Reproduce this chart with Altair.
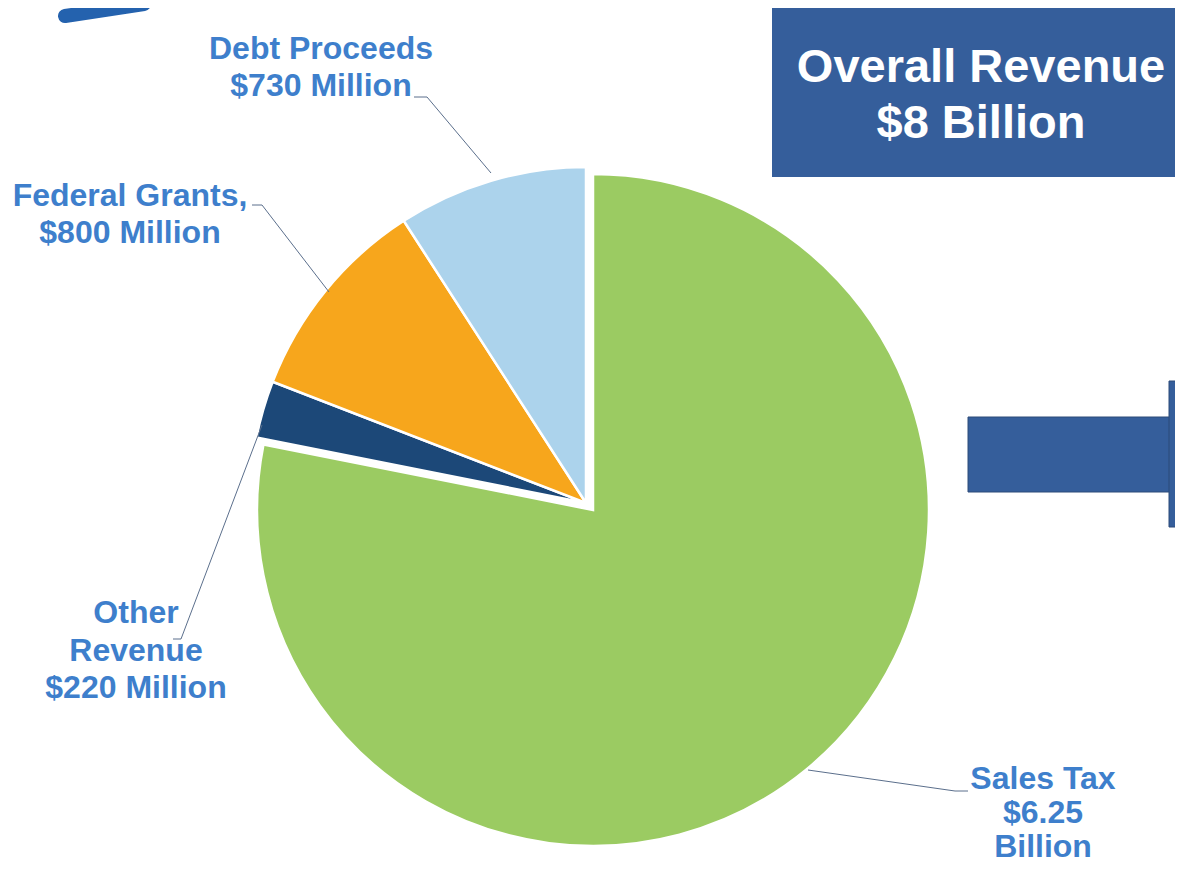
import math
import altair as alt
import pandas as pd

# ---------------- data ----------------
categories = ["Sales Tax", "Other Revenue", "Federal Grants", "Debt Proceeds"]
values_musd = [6250, 220, 800, 730]
slice_colors = ["#9BCB62", "#1C4878", "#F7A61C", "#ACD3EC"]
label_texts = [
    "Sales Tax\n$6.25\nBillion",
    "Other\nRevenue\n$220 Million",
    "Federal Grants,\n$800 Million",
    "Debt Proceeds\n$730 Million",
]
title_text = "Overall Revenue\n$8 Billion"

TOTAL = sum(values_musd)

# ---------------- layout (chart pixel coordinates) ----------------
RADIUS = 336
GREEN_CENTER = (585, 502)
OTHER_CENTER = (578, 495)
LABEL_ANCHORS = {  # first-line baseline, centre x
    "Sales Tax": (1035, 781),
    "Other Revenue": (128, 615),
    "Federal Grants": (122, 198),
    "Debt Proceeds": (313, 51),
}
LABEL_LINE_HEIGHTS = {"Sales Tax": 34.0, "Other Revenue": 37.5,
                      "Federal Grants": 37.0, "Debt Proceeds": 37.0}
LEADERS = {
    "Sales Tax": [(960, 783), (947, 783), (800, 762)],
    "Other Revenue": [(165, 631), (173, 631), (254, 417)],
    "Federal Grants": [(244, 197), (254, 197), (321, 284)],
    "Debt Proceeds": [(406, 89), (419, 89), (483, 165)],
}

LABEL_COLOR = "#3E7FCC"
BOX_COLOR = "#355E9B"
FONT = "Liberation Sans"

df = pd.DataFrame({
    "category": categories,
    "value": values_musd,
    "order": list(range(len(categories))),
})

base = (
    alt.Chart(df)
    .transform_window(cum="sum(value)", sort=[alt.SortField("order")], frame=[None, 0])
    .transform_calculate(start="datum.cum - datum.value")
)

arc = base.mark_arc(radius=RADIUS, stroke="white", strokeWidth=2.5).encode(
    theta=alt.Theta("start:Q", scale=alt.Scale(domain=[0, TOTAL], range=[0, 2 * math.pi])),
    theta2="cum:Q",
    color=alt.Color("category:N", scale=alt.Scale(domain=categories, range=slice_colors), legend=None),
)

green = arc.transform_filter("datum.category == 'Sales Tax'").encode(
    x=alt.value(GREEN_CENTER[0]), y=alt.value(GREEN_CENTER[1])
)
others = arc.transform_filter("datum.category != 'Sales Tax'").encode(
    x=alt.value(OTHER_CENTER[0]), y=alt.value(OTHER_CENTER[1])
)

# labels (one layer per label so each can keep its own line height)
label_layers = []
for c, t in zip(categories, label_texts):
    px, py = LABEL_ANCHORS[c]
    label_layers.append(
        alt.Chart(pd.DataFrame({"category": [c], "text": [t]})).mark_text(
            lineBreak="\n", font=FONT, fontWeight="bold", fontSize=32,
            lineHeight=LABEL_LINE_HEIGHTS[c], color=LABEL_COLOR,
            align="center", baseline="alphabetic",
        ).encode(x=alt.value(px), y=alt.value(py), text="text:N")
    )

# leader lines
rows = []
for c in categories:
    for i, (px, py) in enumerate(LEADERS[c]):
        rows.append({"category": c, "seq": i, "px": px, "py": py})
lead_df = pd.DataFrame(rows)
leaders = alt.Chart(lead_df).mark_line(color="#5B6F8C", strokeWidth=1).encode(
    x=alt.X("px:Q", scale=None),
    y=alt.Y("py:Q", scale=None),
    detail="category:N",
    order="seq:Q",
)

dummy = pd.DataFrame({"a": [0]})

# title box
box = alt.Chart(dummy).mark_rect(color=BOX_COLOR).encode(
    x=alt.value(764), x2=alt.value(1167), y=alt.value(-1), y2=alt.value(169)
)
title = alt.Chart(dummy).mark_text(
    lineBreak="\n", font=FONT, fontWeight="bold", fontSize=47, lineHeight=56,
    color="white", align="center", baseline="alphabetic",
).encode(x=alt.value(973), y=alt.value(74), text=alt.value(title_text))

# arrow on the right
arrow_body = alt.Chart(dummy).mark_rect(color=BOX_COLOR, stroke="#2C4A78", strokeWidth=1).encode(
    x=alt.value(960), x2=alt.value(1162), y=alt.value(409), y2=alt.value(484)
)
arrow_head = alt.Chart(dummy).mark_rect(color=BOX_COLOR, stroke="#2C4A78", strokeWidth=1).encode(
    x=alt.value(1161), x2=alt.value(1168), y=alt.value(373), y2=alt.value(519)
)

# swoosh at top-left
swoosh = alt.Chart(dummy).mark_rule(color="#2462AE", strokeWidth=14, strokeCap="round").encode(
    x=alt.value(57), y=alt.value(8), x2=alt.value(136), y2=alt.value(-4)
)

chart = alt.layer(
    swoosh, box, title, arrow_body, arrow_head, green, others, leaders, *label_layers
).properties(
    width=1167, height=856, autosize="none", padding=0
).configure_view(stroke=None)

chart.save("out.html", embed_options={"renderer": "svg", "actions": False})
